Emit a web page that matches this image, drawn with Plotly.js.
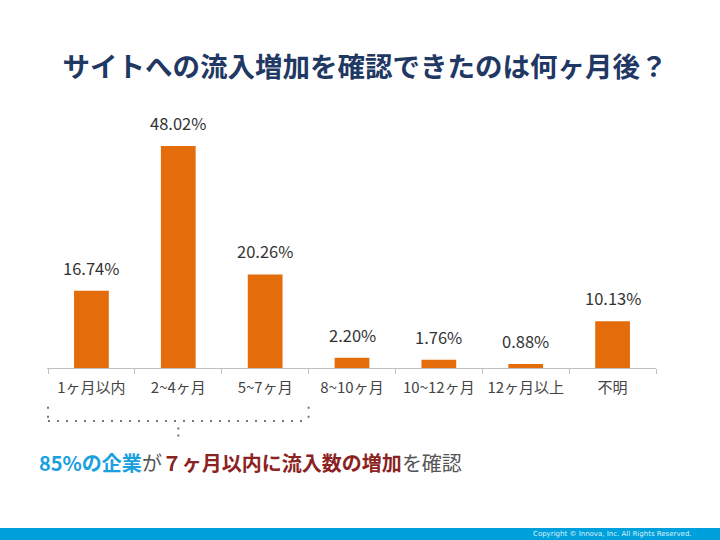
<!DOCTYPE html>
<html>
<head>
<meta charset="utf-8">
<script src="https://cdn.plot.ly/plotly-3.0.1.min.js"></script>
<style>
html,body{margin:0;padding:0;background:#fff;}
#chart{width:720px;height:540px;}
</style>
</head>
<body>
<div id="chart"></div>
<script>
const categories = ["1ヶ月以内", "2~4ヶ月", "5~7ヶ月", "8~10ヶ月", "10~12ヶ月", "12ヶ月以上", "不明"];
const values = [16.74, 48.02, 20.26, 2.20, 1.76, 0.88, 10.13];
const valueLabels = ["16.74%", "48.02%", "20.26%", "2.20%", "1.76%", "0.88%", "10.13%"];

const FONT = "'Noto Sans CJK JP', 'Noto Sans', sans-serif";

const trace = {
  type: "bar",
  x: categories,
  y: values,
  width: 0.4,
  marker: { color: "#E46C0A" },
  hoverinfo: "skip"
};

const annotations = categories.map((c, i) => ({
  x: c, y: values[i], xref: "x", yref: "y",
  text: valueLabels[i], showarrow: false,
  yanchor: "middle", yshift: 23,
  font: { family: FONT, size: 16.5, color: "#333333" }
}));

annotations.push({
  xref: "paper", yref: "paper", x: -0.017, y: -0.352,
  xanchor: "left", yanchor: "middle", showarrow: false,
  text: "<b><span style='color:#1AA0DC'>85%の企業</span></b><span style='color:#555555'>が</span><b><span style='color:#8B2323'>７ヶ月以内に流入数の増加</span></b><span style='color:#555555'>を確認</span>",
  font: { family: FONT, size: 20, color: "#555555" }
});

annotations.push({
  xref: "paper", yref: "paper", x: 1.063, y: -0.621,
  xanchor: "right", yanchor: "middle", showarrow: false,
  text: "Copyright © Innova, Inc. All Rights Reserved.",
  font: { family: "'DejaVu Sans', sans-serif", size: 7, color: "#DDF0FA" }
});

const dotLine = { color: "#777777", width: 2, dash: "2px,7px" };
const shapes = [
  { type: "line", xref: "x", yref: "paper", x0: -0.5, x1: 2.5, y0: -0.198, y1: -0.198, line: dotLine },
  { type: "line", xref: "x", yref: "paper", x0: -0.5, x1: -0.5, y0: -0.145, y1: -0.198, line: dotLine },
  { type: "line", xref: "x", yref: "paper", x0: 2.5, x1: 2.5, y0: -0.145, y1: -0.198, line: dotLine },
  { type: "line", xref: "x", yref: "paper", x0: 1.0, x1: 1.0, y0: -0.222, y1: -0.262, line: { color: "#777777", width: 2, dash: "2px,5px" } },
  { type: "rect", xref: "paper", yref: "paper", x0: -0.08, x1: 1.11, y0: -0.597, y1: -0.65,
    fillcolor: "#00A0DC", line: { width: 0 }, layer: "below" }
];

const layout = {
  width: 720, height: 540,
  margin: { l: 47, r: 64, t: 100, b: 172 },
  paper_bgcolor: "#ffffff", plot_bgcolor: "#ffffff",
  showlegend: false,
  title: {
    text: "<b>サイトへの流入増加を確認できたのは何ヶ月後？</b>",
    font: { family: FONT, size: 27.5, color: "#1F3864" },
    x: 0.507, xanchor: "center", y: 0.876, yanchor: "middle"
  },
  xaxis: {
    type: "category",
    showline: true, linecolor: "#BFBFBF", linewidth: 1,
    ticks: "outside", tickson: "boundaries", ticklen: 5, tickcolor: "#BFBFBF",
    ticklabelstandoff: 6,
    tickfont: { family: FONT, size: 15, color: "#444444" },
    showgrid: false, zeroline: false, fixedrange: true
  },
  yaxis: {
    range: [0, 58], visible: false, showgrid: false, zeroline: false, fixedrange: true
  },
  annotations: annotations,
  shapes: shapes,
  bargap: 0.6
};

Plotly.newPlot("chart", [trace], layout, { staticPlot: true, displayModeBar: false });
</script>
</body>
</html>
